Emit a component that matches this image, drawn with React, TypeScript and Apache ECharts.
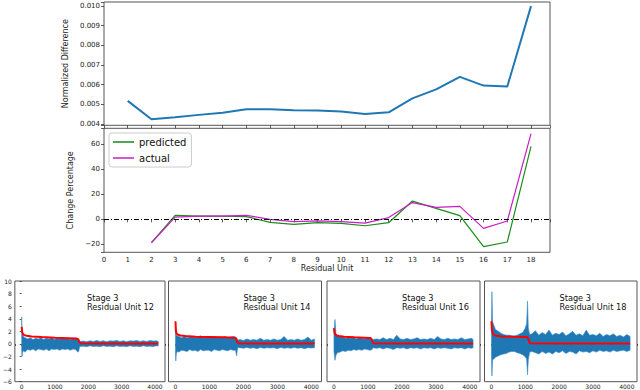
import React, { useEffect, useRef } from "react";
import * as echarts from "echarts";

// ---------- data ----------
const units = [1, 2, 3, 4, 5, 6, 7, 8, 9, 10, 11, 12, 13, 14, 15, 16, 17, 18];
const normDiff = [0.00517, 0.00424, 0.00434, 0.00446, 0.00457, 0.00475, 0.00475, 0.0047, 0.00468, 0.00463, 0.00451, 0.00459, 0.0053, 0.00576, 0.00639, 0.00595, 0.0059, 0.00999];

const changeUnits = [2, 3, 4, 5, 6, 7, 8, 9, 10, 11, 12, 13, 14, 15, 16, 17, 18];
const predicted = [-18.6, 3.2, 2.6, 2.6, 2.1, -2.4, -4.0, -2.7, -3.2, -5.1, -2.7, 14.5, 8.7, 2.9, -21.7, -18.0, 57.9];
const actual = [-18.6, 1.8, 2.6, 2.6, 3.2, 0.0, -1.9, -1.3, -1.9, -3.0, 1.4, 13.3, 9.5, 10.3, -7.2, -1.3, 68.0];

const panelTitles = ["Stage 3\nResidual Unit 12", "Stage 3\nResidual Unit 14", "Stage 3\nResidual Unit 16", "Stage 3\nResidual Unit 18"];

// envelope of the blue signal (step, upper, lower)
const u12X = [0, 10, 25, 50, 100, 180, 260, 340, 420, 500, 580, 660, 740, 820, 900, 980, 1060, 1140, 1220, 1300, 1380, 1460, 1540, 1620, 1680, 1710, 1740, 1850, 1950, 2050, 2150, 2250, 2350, 2450, 2550, 2650, 2750, 2850, 2950, 3050, 3150, 3250, 3350, 3450, 3550, 3650, 3750, 3850, 3950, 4050, 4096];
const u12Hi = [4.3, 2.2, 1.5, 1.2, 1.0, 0.8, 1.0, 0.7, 0.9, 0.8, 1.0, 0.7, 0.9, 0.8, 1.0, 0.7, 0.9, 0.8, 1.0, 0.8, 0.9, 0.7, 0.9, 0.8, 0.9, 0.6, 0.4, 0.45, 0.35, 0.5, 0.4, 0.55, 0.4, 0.5, 0.35, 0.5, 0.45, 0.55, 0.4, 0.5, 0.35, 0.5, 0.45, 0.55, 0.4, 0.5, 0.4, 0.55, 0.45, 0.5, 0.4];
const u12Lo = [-1.2, -2.0, -1.4, -1.1, -1.3, -0.9, -1.0, -0.8, -1.1, -0.8, -0.9, -1.0, -0.8, -1.1, -0.8, -0.9, -0.8, -1.0, -0.8, -0.9, -0.8, -1.0, -0.8, -0.9, -1.3, -1.2, -0.4, -0.35, -0.45, -0.3, -0.4, -0.35, -0.45, -0.3, -0.4, -0.35, -0.45, -0.3, -0.4, -0.35, -0.45, -0.3, -0.4, -0.35, -0.45, -0.3, -0.4, -0.35, -0.4, -0.3, -0.35];
const u12RedX = [0, 15, 40, 80, 150, 300, 600, 1000, 1400, 1650, 1700, 1730, 1770, 2500, 4096];
const u12Red = [2.7, 1.9, 1.55, 1.4, 1.3, 1.2, 1.1, 1.0, 0.92, 0.85, 0.75, 0.3, 0.1, 0.06, 0.05];

const u14X = [0, 10, 25, 50, 100, 180, 260, 340, 420, 500, 580, 660, 740, 820, 900, 980, 1060, 1140, 1220, 1300, 1380, 1460, 1540, 1620, 1700, 1770, 1800, 1830, 1900, 2000, 2100, 2200, 2300, 2400, 2500, 2600, 2700, 2800, 2900, 3000, 3100, 3200, 3300, 3400, 3500, 3600, 3700, 3800, 3900, 4000, 4096];
const u14Hi = [2.5, 1.8, 1.4, 1.3, 1.2, 1.0, 1.2, 1.0, 1.1, 1.2, 1.0, 1.1, 1.3, 1.0, 1.2, 1.0, 1.1, 1.2, 1.0, 1.1, 1.0, 1.2, 1.0, 1.1, 1.2, 1.1, 1.0, 0.6, 0.7, 0.55, 0.8, 0.6, 0.7, 0.6, 0.9, 0.6, 0.7, 0.6, 0.8, 0.6, 0.7, 1.2, 0.6, 0.7, 0.6, 0.8, 0.6, 0.7, 1.1, 0.6, 0.8];
const u14Lo = [-1.5, -2.7, -1.6, -1.2, -1.3, -1.0, -1.1, -1.2, -0.9, -1.1, -1.0, -1.2, -0.9, -1.1, -1.0, -1.0, -1.2, -0.9, -1.0, -1.1, -0.9, -1.0, -1.1, -0.9, -1.0, -1.0, -1.9, -0.6, -0.6, -0.7, -0.55, -0.7, -0.6, -0.75, -0.55, -0.7, -0.6, -0.65, -0.6, -0.75, -0.55, -0.7, -0.6, -0.7, -0.55, -0.7, -0.6, -0.75, -0.6, -0.65, -0.6];
const u14RedX = [0, 15, 40, 80, 150, 300, 600, 1000, 1400, 1750, 1790, 1820, 1860, 2500, 4096];
const u14Red = [3.6, 2.0, 1.6, 1.45, 1.35, 1.25, 1.15, 1.1, 1.05, 1.0, 0.8, 0.3, 0.1, 0.08, 0.06];

const u16X = [0, 30, 60, 100, 180, 260, 340, 420, 500, 580, 660, 740, 820, 900, 980, 1060, 1120, 1150, 1250, 1350, 1450, 1550, 1650, 1750, 1850, 1950, 2050, 2150, 2250, 2350, 2450, 2550, 2650, 2750, 2850, 2950, 3050, 3150, 3250, 3350, 3450, 3550, 3650, 3750, 3850, 3950, 4050, 4096];
const u16Hi = [1.8, 3.9, 1.6, 1.3, 1.1, 1.2, 0.9, 1.0, 0.9, 1.0, 0.8, 1.0, 0.9, 0.8, 1.0, 0.9, 0.8, 0.7, 0.8, 0.7, 1.0, 0.7, 0.9, 0.7, 1.4, 0.8, 0.7, 0.9, 0.7, 0.8, 1.0, 0.7, 0.8, 0.7, 0.9, 0.7, 1.2, 0.8, 0.7, 0.9, 0.7, 0.8, 0.7, 1.0, 0.7, 0.8, 0.9, 0.7];
const u16Lo = [-1.2, -2.6, -1.8, -1.4, -1.3, -1.1, -1.2, -1.0, -1.1, -0.9, -1.0, -0.9, -1.0, -0.8, -0.9, -1.0, -0.9, -0.6, -0.7, -0.6, -0.8, -0.6, -0.7, -0.9, -0.6, -0.7, -0.6, -0.8, -0.6, -0.7, -0.6, -0.8, -0.6, -0.7, -0.6, -0.8, -0.6, -0.7, -0.6, -0.7, -0.8, -0.6, -0.7, -0.6, -0.8, -0.6, -0.7, -0.6];
const u16RedX = [0, 15, 40, 80, 150, 300, 600, 900, 1080, 1110, 1140, 1170, 2000, 4096];
const u16Red = [2.5, 1.8, 1.5, 1.35, 1.25, 1.15, 1.05, 1.0, 0.95, 0.7, 0.3, 0.1, 0.06, 0.05];

const u18X = [0, 15, 35, 70, 120, 200, 280, 360, 440, 520, 600, 680, 760, 840, 920, 990, 1040, 1065, 1090, 1130, 1200, 1300, 1400, 1500, 1600, 1700, 1800, 1900, 2000, 2100, 2200, 2300, 2400, 2500, 2600, 2700, 2800, 2900, 3000, 3100, 3200, 3300, 3400, 3500, 3600, 3700, 3800, 3900, 4000, 4096];
const u18Hi = [3.0, 8.3, 3.5, 3.0, 2.3, 2.0, 1.7, 1.5, 1.4, 1.4, 1.3, 1.3, 1.4, 1.6, 1.8, 2.4, 3.2, 6.8, 2.5, 1.5, 1.6, 2.1, 1.4, 1.8, 1.5, 2.2, 1.4, 1.7, 1.5, 1.9, 1.3, 1.6, 2.0, 1.4, 1.6, 1.3, 2.2, 1.4, 1.5, 1.3, 1.7, 1.2, 1.5, 1.3, 1.6, 1.2, 1.4, 1.1, 1.5, 1.2];
const u18Lo = [-2.0, -5.1, -2.5, -2.4, -2.1, -1.9, -1.7, -1.6, -1.5, -1.3, -1.2, -1.2, -1.4, -1.5, -1.7, -2.0, -2.4, -4.9, -2.5, -1.3, -1.2, -1.4, -1.6, -1.2, -1.5, -1.3, -1.6, -1.2, -1.4, -1.1, -1.5, -1.2, -1.3, -1.6, -1.1, -1.3, -1.2, -1.4, -1.1, -1.3, -1.0, -1.2, -1.1, -1.3, -1.0, -1.2, -1.1, -1.0, -1.2, -1.0];
const u18RedX = [0, 15, 40, 80, 150, 300, 600, 900, 1060, 1090, 1120, 1150, 2000, 4096];
const u18Red = [3.6, 2.2, 1.6, 1.4, 1.3, 1.2, 1.15, 1.12, 1.1, 0.8, 0.3, 0.1, 0.06, 0.05];

const panels = [
  { x: u12X, hi: u12Hi, lo: u12Lo, rx: u12RedX, ry: u12Red },
  { x: u14X, hi: u14Hi, lo: u14Lo, rx: u14RedX, ry: u14Red },
  { x: u16X, hi: u16Hi, lo: u16Lo, rx: u16RedX, ry: u16Red },
  { x: u18X, hi: u18Hi, lo: u18Lo, rx: u18RedX, ry: u18Red },
];

// ---------- styling ----------
const FONT = "DejaVu Sans";
const FRAME = "#555";
const BLUE = "#1f77b4";
const GREEN = "#1a8c1a";
const MAGENTA = "#c61fc6";
const panelLefts = [12, 168.5, 327, 484.5];
const panelWidth = 153;

const minus = (s: string) => s.replace("-", "\u2212");
const multipleOf = (v: number, step: number) => Math.abs(v / step - Math.round(v / step)) < 1e-6;

export default function App() {
  const ref = useRef<HTMLDivElement>(null);
  useEffect(() => {
    if (!ref.current) return;
    const chart = echarts.init(ref.current, null, { renderer: "svg" });

    const tickStyle = { lineStyle: { color: "#333", width: 0.8 }, length: 3 };

    const grids: any[] = [
      { left: 104, top: 2, width: 446, height: 123.3, show: true, borderColor: FRAME, borderWidth: 1, backgroundColor: "#fff" },
      { left: 104, top: 128.3, width: 446, height: 124, show: true, borderColor: FRAME, borderWidth: 1, backgroundColor: "#fff" },
    ];
    panelLefts.forEach((l) => grids.push({ left: l, top: 281, width: panelWidth, height: 100.7, show: true, borderColor: FRAME, borderWidth: 1, backgroundColor: "#fff" }));

    const xAxes: any[] = [
      {
        gridIndex: 0, type: "value", min: 0, max: 18.8, interval: 1,
        axisLine: { show: false }, splitLine: { show: false },
        axisTick: tickStyle, axisLabel: { show: false },
      },
      {
        gridIndex: 1, type: "value", min: 0, max: 18.8, interval: 1,
        axisLine: { show: false }, splitLine: { show: false }, axisTick: tickStyle,
        axisLabel: { fontSize: 7, fontFamily: FONT, color: "#222", margin: 4, formatter: (v: number) => (multipleOf(v, 1) ? String(v) : "") },
        name: "Residual Unit", nameLocation: "middle", nameGap: 12,
        nameTextStyle: { fontSize: 8, fontFamily: FONT, color: "#222" },
      },
    ];
    const yAxes: any[] = [
      {
        gridIndex: 0, type: "value", min: 0.00393, max: 0.0102,
        axisLine: { show: false }, splitLine: { show: false }, axisTick: tickStyle,
        axisLabel: { fontSize: 7, fontFamily: FONT, color: "#222", margin: 4, formatter: (v: number) => (multipleOf(v, 0.001) ? v.toFixed(3) : "") },
        name: "Normalized Difference", nameLocation: "middle", nameGap: 27,
        nameTextStyle: { fontSize: 8, fontFamily: FONT, color: "#222" },
      },
      {
        gridIndex: 1, type: "value", min: -26.2, max: 72.3,
        axisLine: { show: false }, splitLine: { show: false }, axisTick: tickStyle,
        axisLabel: { fontSize: 7, fontFamily: FONT, color: "#222", margin: 4, formatter: (v: number) => (multipleOf(v, 20) ? minus(String(Math.round(v))) : "") },
        name: "Change Percentage", nameLocation: "middle", nameGap: 21,
        nameTextStyle: { fontSize: 8, fontFamily: FONT, color: "#222" },
      },
    ];
    panelLefts.forEach((_, k) => {
      xAxes.push({
        gridIndex: k + 2, type: "value", min: -205, max: 4300,
        axisLine: { show: false }, splitLine: { show: false }, axisTick: { ...tickStyle, length: 2 },
        axisLabel: { fontSize: 6, fontFamily: FONT, color: "#222", margin: 2, formatter: (v: number) => (multipleOf(v, 1000) && v >= 0 ? String(v) : "") },
      });
      yAxes.push({
        gridIndex: k + 2, type: "value", min: -6, max: 10, interval: 2,
        axisLine: { show: false }, splitLine: { show: false },
        axisTick: { ...tickStyle, length: 2, show: k === 0 },
        axisLabel: { show: k === 0, fontSize: 6, fontFamily: FONT, color: "#222", margin: 3, formatter: (v: number) => minus(String(v)) },
      });
    });

    const series: any[] = [
      {
        name: "norm", type: "line", xAxisIndex: 0, yAxisIndex: 0, symbol: "none",
        data: units.map((u, i) => [u, normDiff[i]]),
        lineStyle: { color: BLUE, width: 2 }, color: BLUE,
      },
      {
        name: "predicted", type: "line", xAxisIndex: 1, yAxisIndex: 1, symbol: "none",
        data: changeUnits.map((u, i) => [u, predicted[i]]),
        lineStyle: { color: GREEN, width: 1.2 }, color: GREEN,
        markLine: {
          silent: true, symbol: "none", label: { show: false },
          lineStyle: { color: "#000", width: 1, type: [5, 2, 1, 2] },
          data: [{ yAxis: 0 }],
        },
      },
      {
        name: "actual", type: "line", xAxisIndex: 1, yAxisIndex: 1, symbol: "none",
        data: changeUnits.map((u, i) => [u, actual[i]]),
        lineStyle: { color: MAGENTA, width: 1.2 }, color: MAGENTA,
      },
    ];

    panels.forEach((p, k) => {
      const pts = p.x.map((x, i) => [x, p.hi[i], p.lo[i]]);
      series.push({
        type: "custom", xAxisIndex: k + 2, yAxisIndex: k + 2,
        data: pts,
        encode: { x: 0, y: [1, 2] },
        renderItem: (params: any, api: any) => {
          if (params.dataIndex !== 0) return null;
          const upper = pts.map((d) => api.coord([d[0], d[1]]));
          const lower = pts.map((d) => api.coord([d[0], d[2]])).reverse();
          return {
            type: "polygon",
            shape: { points: upper.concat(lower) },
            style: { fill: BLUE, stroke: "#3a8cc8", lineWidth: 0.6 },
          };
        },
      });
      series.push({
        type: "line", xAxisIndex: k + 2, yAxisIndex: k + 2, symbol: "none",
        data: p.rx.map((x, i) => [x, p.ry[i]]),
        lineStyle: { color: "#ff0000", width: 2 },
      });
    });

    const graphic = panelLefts.map((l, k) => ({
      type: "text",
      x: l + 75,
      y: 293,
      style: { text: panelTitles[k], font: `8.2px ${FONT}`, lineHeight: 9.5, fill: "#111", verticalAlign: "top" },
    }));

    chart.setOption({
      animation: false,
      textStyle: { fontFamily: FONT },
      grid: grids,
      xAxis: xAxes,
      yAxis: yAxes,
      series,
      graphic,
      legend: {
        data: [
          { name: "predicted", icon: "rect", itemStyle: { color: GREEN } },
          { name: "actual", icon: "rect", itemStyle: { color: MAGENTA } },
        ],
        orient: "vertical",
        left: 109, top: 133,
        itemWidth: 21, itemHeight: 1.5, itemGap: 4,
        padding: [3, 5, 3, 4],
        backgroundColor: "#fff",
        borderColor: "#ccc", borderWidth: 1, borderRadius: 3,
        textStyle: { fontSize: 10, fontFamily: FONT, color: "#111", lineHeight: 12 },
      },
    });
    return () => chart.dispose();
  }, []);

  return <div ref={ref} style={{ position: "fixed", left: 0, top: 0, width: 640, height: 390, background: "#fff" }} />;
}
